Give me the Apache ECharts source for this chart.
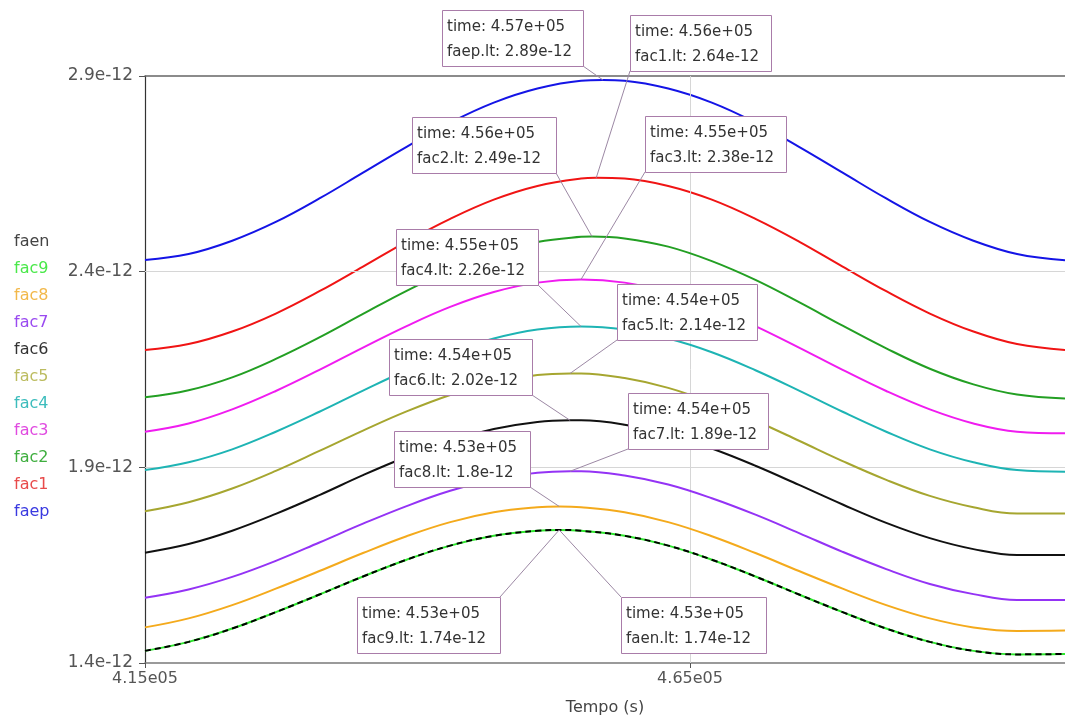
<!DOCTYPE html>
<html>
<head>
<meta charset="utf-8">
<script src="https://cdn.jsdelivr.net/npm/echarts@6/dist/echarts.min.js"></script>
<style>
  html, body { margin: 0; padding: 0; background: #ffffff; }
  #chart { width: 1065px; height: 717px; }
</style>
</head>
<body>
<div id="chart"></div>
<script>
// Sampling instants (s)
const timeGrid = [415000, 419000, 423000, 427000, 431000, 435000, 439000, 443000, 447000, 451000, 455000,
                  459000, 463000, 467000, 471000, 475000, 479000, 483000, 487000, 491000, 495000, 499400];

// Curve values at the sampling instants, in units of 1e-12
const faep = [2.430, 2.445, 2.479, 2.527, 2.587, 2.653, 2.719, 2.781, 2.832, 2.868, 2.888,
              2.888, 2.868, 2.832, 2.781, 2.719, 2.653, 2.587, 2.527, 2.479, 2.445, 2.429];
const fac1 = [2.200, 2.215, 2.247, 2.293, 2.350, 2.413, 2.477, 2.535, 2.584, 2.619, 2.638,
              2.638, 2.619, 2.584, 2.535, 2.477, 2.413, 2.350, 2.293, 2.247, 2.215, 2.200];
const fac2 = [2.079, 2.097, 2.130, 2.177, 2.232, 2.292, 2.351, 2.404, 2.447, 2.476, 2.489,
              2.485, 2.464, 2.427, 2.379, 2.322, 2.262, 2.204, 2.152, 2.112, 2.086, 2.076];
const fac3 = [1.991, 2.012, 2.048, 2.095, 2.149, 2.206, 2.261, 2.310, 2.348, 2.372, 2.380,
              2.372, 2.348, 2.310, 2.261, 2.206, 2.149, 2.095, 2.048, 2.012, 1.991, 1.987];
const fac4 = [1.893, 1.913, 1.946, 1.991, 2.042, 2.096, 2.148, 2.194, 2.229, 2.252, 2.260,
              2.252, 2.229, 2.194, 2.148, 2.096, 2.042, 1.991, 1.946, 1.913, 1.893, 1.889];
const fac5 = [1.788, 1.811, 1.846, 1.891, 1.942, 1.994, 2.043, 2.085, 2.117, 2.136, 2.140,
              2.128, 2.103, 2.065, 2.019, 1.968, 1.916, 1.868, 1.827, 1.798, 1.782, 1.782];
const fac6 = [1.682, 1.704, 1.738, 1.781, 1.829, 1.880, 1.927, 1.968, 1.998, 2.016, 2.020,
              2.009, 1.984, 1.948, 1.904, 1.855, 1.805, 1.758, 1.719, 1.691, 1.676, 1.676];
const fac7 = [1.567, 1.588, 1.620, 1.661, 1.708, 1.756, 1.801, 1.840, 1.869, 1.886, 1.890,
              1.879, 1.856, 1.821, 1.779, 1.732, 1.684, 1.640, 1.602, 1.576, 1.561, 1.561];
const fac8 = [1.491, 1.514, 1.548, 1.590, 1.635, 1.681, 1.724, 1.760, 1.785, 1.798, 1.798,
              1.785, 1.760, 1.724, 1.681, 1.635, 1.590, 1.548, 1.514, 1.491, 1.482, 1.483];
const fac9 = [1.431, 1.454, 1.488, 1.530, 1.575, 1.621, 1.664, 1.700, 1.725, 1.738, 1.738,
              1.725, 1.700, 1.664, 1.621, 1.575, 1.530, 1.488, 1.454, 1.431, 1.422, 1.423];
const faen = [1.431, 1.454, 1.488, 1.530, 1.575, 1.621, 1.664, 1.700, 1.725, 1.738, 1.738,
              1.725, 1.700, 1.664, 1.621, 1.575, 1.530, 1.488, 1.454, 1.431, 1.422, 1.423];

const seriesNames = ['faep', 'fac1', 'fac2', 'fac3', 'fac4', 'fac5', 'fac6', 'fac7', 'fac8', 'fac9', 'faen'];
const seriesValues = [faep, fac1, fac2, fac3, fac4, fac5, fac6, fac7, fac8, fac9, faen];

// Maxima picked by the data cursors
const peakTimes  = [457000, 456400, 456000, 455000, 455000, 454000, 454000, 454000, 453000, 453000, 453000];
const peakValues = [2.89, 2.64, 2.49, 2.38, 2.26, 2.14, 2.02, 1.89, 1.80, 1.74, 1.74];

// Axis ticks
const xTickValues = [415000, 465000];
const yTickValues = [1.4, 1.9, 2.4, 2.9];
const xAxisName = 'Tempo (s)';

// ---- styling ----
const FONT = 'DejaVu Sans';
const lineColors = {
  faep: '#1414e6', fac1: '#f01414', fac2: '#239f23', fac3: '#f01cf0', fac4: '#1eb4b4',
  fac5: '#a6a630', fac6: '#111111', fac7: '#9433f5', fac8: '#f4aa1c', fac9: '#2ee82e', faen: '#000000'
};
const legendColors = {
  faep: '#3a3ae0', fac1: '#e84a4a', fac2: '#3fae3f', fac3: '#e04ae0', fac4: '#3cbcbc',
  fac5: '#bcbc60', fac6: '#333333', fac7: '#9a4af0', fac8: '#f2b84a', fac9: '#4ae84a', faen: '#444444'
};

// Data-cursor boxes: [left, top, width, height, corner the leader leaves from]
const calloutLayout = {
  faep: [442, 10, 141, 56, 'br'],
  fac1: [630, 15, 141, 56, 'bl'],
  fac2: [412, 117, 144, 56, 'br'],
  fac3: [645, 116, 141, 56, 'bl'],
  fac4: [396, 229, 142, 56, 'br'],
  fac5: [617, 284, 140, 56, 'bl'],
  fac6: [389, 339, 143, 56, 'br'],
  fac7: [628, 393, 140, 56, 'bl'],
  fac8: [394, 431, 136, 56, 'br'],
  fac9: [357, 597, 143, 56, 'tr'],
  faen: [621, 597, 145, 56, 'tl']
};

function fmtTime(t) {
  const exp = Math.floor(Math.log10(t));
  const mant = (t / Math.pow(10, exp)).toFixed(2);
  return mant + 'e+' + String(exp).padStart(2, '0');
}
function fmtVal(v) {
  return String(Number(v.toPrecision(3))) + 'e-12';
}

// sampled points plus the cursor maximum, in time order
function buildData(i) {
  const pts = [];
  timeGrid.forEach((t, j) => {
    if (t !== peakTimes[i]) pts.push([t, seriesValues[i][j]]);
  });
  pts.push([peakTimes[i], peakValues[i]]);
  pts.sort((a, b) => a[0] - b[0]);
  return pts;
}

const chart = echarts.init(document.getElementById('chart'), null, { renderer: 'canvas' });

const series = seriesNames.map((name, i) => ({
  name: name,
  type: 'line',
  data: buildData(i),
  smooth: 0.4,
  showSymbol: false,
  symbol: 'none',
  silent: true,
  z: 3 + i,
  color: lineColors[name],
  lineStyle: {
    color: lineColors[name],
    width: 2,
    type: name === 'faen' ? [6, 4] : 'solid'
  }
}));

// light reference lines inside the plot
series.unshift({
  name: 'grid-lines',
  type: 'line',
  data: [],
  silent: true,
  z: 1,
  markLine: {
    silent: true,
    symbol: 'none',
    animation: false,
    label: { show: false },
    lineStyle: { color: '#d6d6d6', width: 1, type: 'solid' },
    data: [{ yAxis: 2.4 }, { yAxis: 1.9 }, { xAxis: 465000 }]
  }
});

const legendOrder = seriesNames.slice().reverse();

chart.setOption({
  animation: false,
  backgroundColor: '#ffffff',
  textStyle: { fontFamily: FONT },
  grid: { left: 145, right: 0, top: 76, bottom: 54, containLabel: false, outerBoundsMode: 'none' },
  legend: {
    orient: 'vertical',
    left: 4,
    top: 228,
    itemWidth: 0,
    itemHeight: 0,
    itemGap: 9,
    selectedMode: false,
    textStyle: { fontFamily: FONT, fontSize: 16, lineHeight: 18 },
    data: legendOrder.map(n => ({ name: n, icon: 'rect', textStyle: { color: legendColors[n] } }))
  },
  xAxis: [{
    type: 'value',
    min: 415000,
    max: 499400,
    name: xAxisName,
    nameLocation: 'middle',
    nameGap: 37,
    nameTextStyle: { fontFamily: FONT, fontSize: 16, color: '#444444' },
    axisLine: { show: true, lineStyle: { color: '#7a7a7a', width: 1.5 } },
    axisTick: { show: true, customValues: xTickValues, length: 5, lineStyle: { color: '#555555' } },
    axisLabel: {
      customValues: xTickValues,
      margin: 8,
      fontFamily: FONT,
      fontSize: 16,
      color: '#555555',
      formatter: v => (v / 1e5).toFixed(2) + 'e05'
    },
    splitLine: { show: false }
  }, {
    type: 'value',
    position: 'top',
    min: 415000,
    max: 499400,
    axisLine: { show: true, lineStyle: { color: '#666666', width: 1.5 } },
    axisTick: { show: false },
    axisLabel: { show: false },
    splitLine: { show: false }
  }],
  yAxis: {
    type: 'value',
    min: 1.4,
    max: 2.9,
    axisLine: { show: true, lineStyle: { color: '#333333', width: 1.2 } },
    axisTick: { show: true, customValues: yTickValues, length: 6, lineStyle: { color: '#555555' } },
    axisLabel: {
      customValues: yTickValues,
      margin: 12,
      fontFamily: FONT,
      fontSize: 17,
      color: '#555555',
      formatter: v => v.toFixed(1) + 'e-12'
    },
    splitLine: { show: false }
  },
  series: series
});

// data-cursor annotations, anchored to the maxima through the axes
const graphics = [];
seriesNames.forEach((name, i) => {
  const [bx, by, bw, bh, corner] = calloutLayout[name];
  const p = chart.convertToPixel({ xAxisIndex: 0, yAxisIndex: 0 }, [peakTimes[i], peakValues[i]]);
  const cx = corner.endsWith('r') ? bx + bw : bx;
  const cy = corner.startsWith('b') ? by + bh : by;
  graphics.push({
    type: 'line',
    silent: true,
    z: 100,
    shape: { x1: cx, y1: cy, x2: p[0], y2: p[1] },
    style: { stroke: '#9c88a4', lineWidth: 1 }
  });
  graphics.push({
    type: 'rect',
    silent: true,
    z: 101,
    shape: { x: bx + 0.5, y: by + 0.5, width: bw, height: bh },
    style: { fill: '#ffffff', stroke: '#a97ca9', lineWidth: 1 }
  });
  graphics.push({
    type: 'text',
    silent: true,
    z: 102,
    style: {
      x: bx + 5,
      y: by + 5,
      text: 'time: ' + fmtTime(peakTimes[i]) + '\n' + name + '.lt: ' + fmtVal(peakValues[i]),
      font: '15px "' + FONT + '"',
      lineHeight: 25,
      fill: '#333333',
      verticalAlign: 'top'
    }
  });
});
chart.setOption({ graphic: graphics });
</script>
</body>
</html>
